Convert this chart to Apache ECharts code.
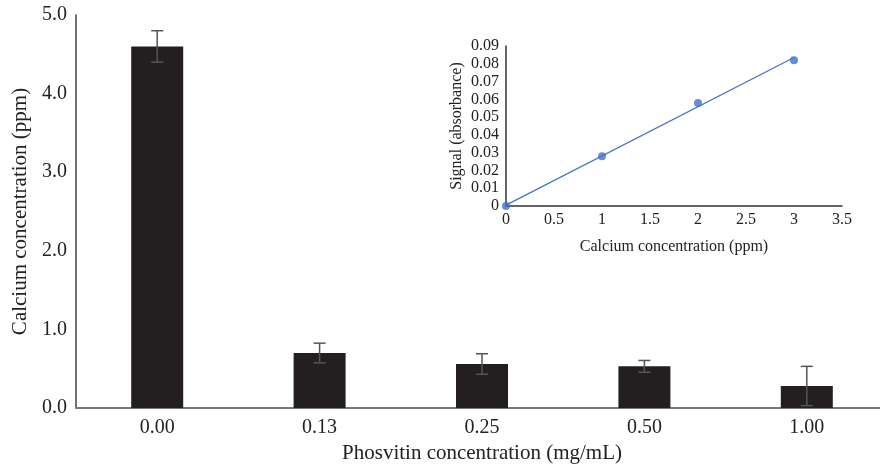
<!DOCTYPE html>
<html>
<head>
<meta charset="utf-8">
<script src="https://cdn.jsdelivr.net/npm/echarts@6/dist/echarts.min.js"></script>
<style>
  html, body { margin: 0; padding: 0; background: #fff; }
  #chart { width: 880px; height: 466px; }
</style>
</head>
<body>
<div id="chart"></div>
<script>
// main bar chart
const categories = ['0.00', '0.13', '0.25', '0.50', '1.00']
const calciumPpm = [4.6, 0.70, 0.56, 0.53, 0.28]
const errorPpm = [0.2, 0.125, 0.13, 0.075, 0.25]

// inset calibration curve
const stdConc = [0, 1, 2, 3]
const stdSignal = [0, 0.028, 0.058, 0.082]
const trendX = [0, 3]
const trendY = [0.0005, 0.0835]

const serif = '"Liberation Serif", "DejaVu Serif", serif'
const chart = echarts.init(document.getElementById('chart'))

const errData = categories.map((c, i) => [i, calciumPpm[i] - errorPpm[i], calciumPpm[i] + errorPpm[i]])

const option = {
  animation: false,
  backgroundColor: '#ffffff',
  textStyle: { fontFamily: serif },
  grid: [
    { left: 76, top: 15, width: 812, height: 393, outerBoundsMode: 'none', containLabel: false },
    { left: 506, top: 46, width: 336, height: 160, outerBoundsMode: 'none', containLabel: false }
  ],
  xAxis: [
    {
      type: 'category',
      data: categories,
      gridIndex: 0,
      axisLine: { lineStyle: { color: '#7a7a7a', width: 2 } },
      axisTick: { show: false },
      axisLabel: { color: '#222', fontSize: 20, fontFamily: serif, margin: 10 },
      name: 'Phosvitin concentration (mg/mL)',
      nameLocation: 'middle',
      nameGap: 34,
      nameTextStyle: { color: '#222', fontSize: 21, fontFamily: serif }
    },
    {
      type: 'value',
      gridIndex: 1,
      min: 0,
      max: 3.5,
      interval: 0.5,
      axisLine: { lineStyle: { color: '#333', width: 1.5 } },
      axisTick: { show: false },
      splitLine: { show: false },
      axisLabel: { color: '#222', fontSize: 16, fontFamily: serif, margin: 6 },
      name: 'Calcium concentration (ppm)',
      nameLocation: 'middle',
      nameGap: 33,
      nameTextStyle: { color: '#222', fontSize: 16, fontFamily: serif }
    }
  ],
  yAxis: [
    {
      type: 'value',
      gridIndex: 0,
      min: 0,
      max: 5,
      interval: 1,
      axisLine: { show: true, lineStyle: { color: '#444', width: 1.5 } },
      axisTick: { show: false },
      splitLine: { show: false },
      axisLabel: { color: '#222', fontSize: 20, fontFamily: serif, margin: 9, formatter: v => v.toFixed(1) },
      name: 'Calcium concentration (ppm)',
      nameLocation: 'middle',
      nameGap: 45,
      nameTextStyle: { color: '#222', fontSize: 21, fontFamily: serif }
    },
    {
      type: 'value',
      gridIndex: 1,
      min: 0,
      max: 0.09,
      interval: 0.01,
      axisLine: { show: true, lineStyle: { color: '#333', width: 1.5 } },
      axisTick: { show: false },
      splitLine: { show: false },
      axisLabel: {
        color: '#222', fontSize: 16, fontFamily: serif, margin: 7,
        formatter: v => v === 0 ? '0' : v.toFixed(2)
      },
      name: 'Signal (absorbance)',
      nameLocation: 'middle',
      nameGap: 41,
      nameTextStyle: { color: '#222', fontSize: 16, fontFamily: serif }
    }
  ],
  series: [
    {
      name: 'Calcium',
      type: 'bar',
      xAxisIndex: 0,
      yAxisIndex: 0,
      data: calciumPpm,
      barWidth: 52,
      itemStyle: { color: '#231f20' }
    },
    {
      name: 'Error',
      type: 'custom',
      xAxisIndex: 0,
      yAxisIndex: 0,
      data: errData,
      z: 5,
      renderItem: function (params, api) {
        const x = api.value(0)
        const lo = api.coord([x, api.value(1)])
        const hi = api.coord([x, api.value(2)])
        const hw = 6
        const style = { stroke: '#555', lineWidth: 1.5 }
        return {
          type: 'group',
          children: [
            { type: 'line', shape: { x1: lo[0], y1: lo[1], x2: hi[0], y2: hi[1] }, style },
            { type: 'line', shape: { x1: hi[0] - hw, y1: hi[1], x2: hi[0] + hw, y2: hi[1] }, style },
            { type: 'line', shape: { x1: lo[0] - hw, y1: lo[1], x2: lo[0] + hw, y2: lo[1] }, style }
          ]
        }
      }
    },
    {
      name: 'Trend',
      type: 'line',
      xAxisIndex: 1,
      yAxisIndex: 1,
      data: trendX.map((x, i) => [x, trendY[i]]),
      showSymbol: false,
      lineStyle: { color: '#4472c4', width: 1.2 }
    },
    {
      name: 'Standards',
      type: 'scatter',
      xAxisIndex: 1,
      yAxisIndex: 1,
      data: stdConc.map((x, i) => [x, stdSignal[i]]),
      symbolSize: 8,
      itemStyle: { color: '#4472c4' },
      z: 4
    }
  ]
}

chart.setOption(option)
</script>
</body>
</html>
